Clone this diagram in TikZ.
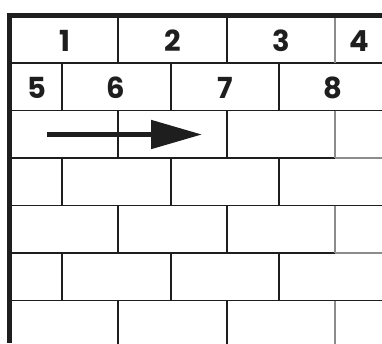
\documentclass[tikz,border=0pt]{standalone}
\usepackage{fontspec}
\setmainfont{Poppins}
\usetikzlibrary{arrows.meta}
\definecolor{ink}{HTML}{1E1E1E}
\definecolor{faint}{HTML}{8C8C8C}
\begin{document}
\begin{tikzpicture}[x=1pt,y=-1pt,
  brick/.style={draw=ink,line width=1.8pt},
  fbrick/.style={draw=faint,line width=1.8pt},
  frame/.style={draw=ink,line width=5pt},
  num/.style={font=\fontsize{29}{29}\selectfont\bfseries,text=ink,inner sep=0pt,anchor=center},
  bigarrow/.style={draw=ink,line width=5pt,-{Triangle[length=51pt,width=28pt]}}]
\useasboundingbox (0,0) rectangle (382,343);
% horizontal courses
\foreach \y in {63,110.5,205.5,300.5} \draw[brick] (12,\y) -- (382,\y);
\foreach \y in {158,253} {\draw[brick] (12,\y) -- (335.3,\y); \draw[fbrick] (335.3,\y) -- (382,\y);}
% vertical joints, odd courses
\foreach \t in {15.5,110.5,205.5,300.5} {
  \draw[brick] (118,\t) -- ++(0,47.5);
  \draw[brick] (226.7,\t) -- ++(0,47.5);
  \draw[fbrick] (335.3,\t) -- ++(0,47.5);
}
% vertical joints, even courses
\foreach \t in {63,158,253} {
  \draw[brick] (62,\t) -- ++(0,47.5);
  \draw[brick] (170.7,\t) -- ++(0,47.5);
  \draw[brick] (279.3,\t) -- ++(0,47.5);
}
% frame
\draw[frame] (9.5,343) -- (9.5,15.5) -- (382,15.5);
% labels
\node[num] (n1) at (65,41) {1};
\node[num] (n2) at (172.5,41) {2};
\node[num] (n3) at (281,41) {3};
\node[num] (n4) at (359,41) {4};
\node[num] (n5) at (37,88) {5};
\node[num] (n6) at (116,88) {6};
\node[num] (n7) at (225,88) {7};
\node[num] (n8) at (333,88) {8};
% arrow
\coordinate (a0) at (47,134.5);
\coordinate (a1) at (202,134.5);
\draw[bigarrow] (a0) -- (a1);
\end{tikzpicture}
\end{document}
